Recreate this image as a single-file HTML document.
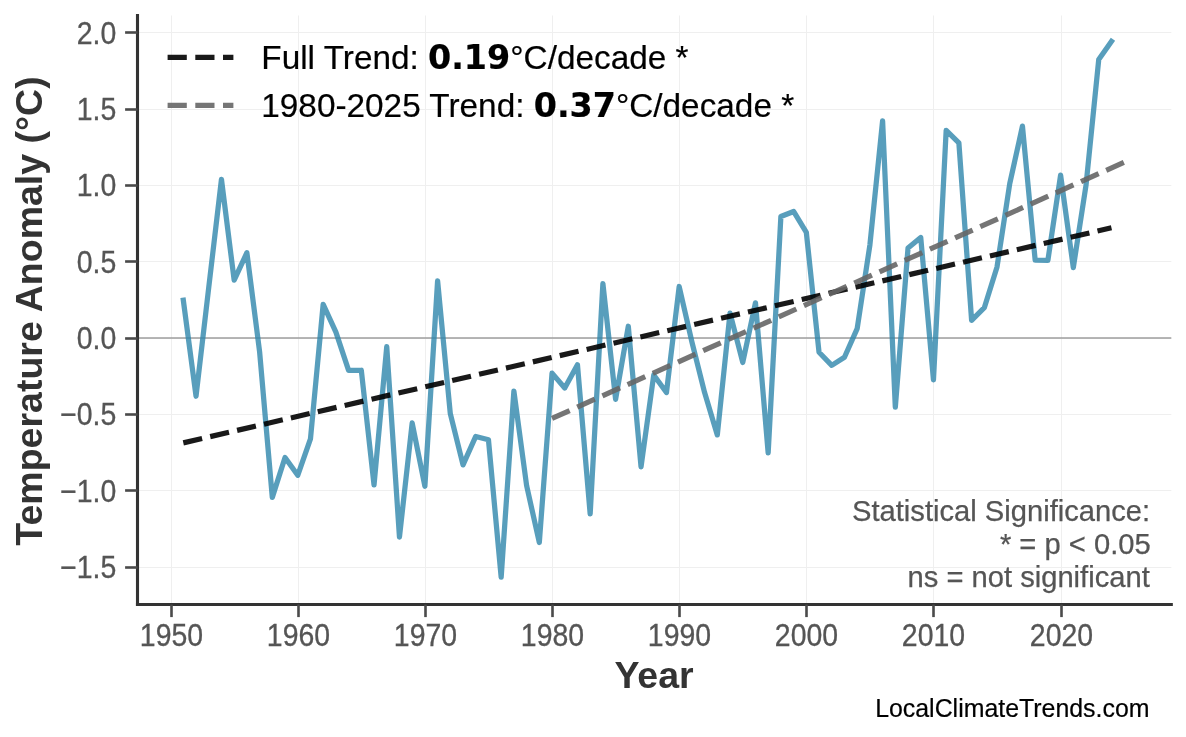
<!DOCTYPE html>
<html lang="en"><head><meta charset="utf-8"><title>Temperature Anomaly Trend</title>
<style>
html,body{margin:0;padding:0;background:#fff;}
body{width:1186px;height:737px;overflow:hidden;}
svg{display:block;}
text{font-family:"Liberation Sans",sans-serif;}
.tk{font-size:29.17px;fill:#555555;stroke:#555555;stroke-width:0.3px;}
.lg{font-size:33.33px;fill:#000;stroke:#000;stroke-width:0.2px;}
.bd{font-family:"DejaVu Sans",sans-serif;font-weight:bold;}
.al{font-size:37.5px;font-weight:bold;fill:#333333;}
.an{font-size:29.17px;fill:#555555;stroke:#555555;stroke-width:0.25px;}
.wm{font-size:24.9px;fill:#000;stroke:#000;stroke-width:0.2px;}
</style></head><body>
<svg width="1186" height="737" viewBox="0 0 1186 737">
<rect width="1186" height="737" fill="#ffffff"/>
<g stroke="#efefef" stroke-width="1" fill="none">
<line x1="171.50" y1="15.5" x2="171.50" y2="604.5"/>
<line x1="298.50" y1="15.5" x2="298.50" y2="604.5"/>
<line x1="425.50" y1="15.5" x2="425.50" y2="604.5"/>
<line x1="552.50" y1="15.5" x2="552.50" y2="604.5"/>
<line x1="679.50" y1="15.5" x2="679.50" y2="604.5"/>
<line x1="806.50" y1="15.5" x2="806.50" y2="604.5"/>
<line x1="933.50" y1="15.5" x2="933.50" y2="604.5"/>
<line x1="1061.50" y1="15.5" x2="1061.50" y2="604.5"/>
<line x1="137.5" y1="567.50" x2="1171.3" y2="567.50"/>
<line x1="137.5" y1="490.50" x2="1171.3" y2="490.50"/>
<line x1="137.5" y1="414.50" x2="1171.3" y2="414.50"/>
<line x1="137.5" y1="338.50" x2="1171.3" y2="338.50"/>
<line x1="137.5" y1="261.50" x2="1171.3" y2="261.50"/>
<line x1="137.5" y1="185.50" x2="1171.3" y2="185.50"/>
<line x1="137.5" y1="109.50" x2="1171.3" y2="109.50"/>
<line x1="137.5" y1="32.50" x2="1171.3" y2="32.50"/>
</g>
<line x1="137.5" y1="338.00" x2="1171.3" y2="338.00" stroke="#9e9e9e" stroke-width="1.6"/>
<polyline points="183.31,300.17 196.03,396.24 208.74,287.56 221.46,179.34 234.17,280.22 246.89,252.71 259.60,351.76 272.31,497.42 285.03,457.53 297.74,475.26 310.46,438.88 323.17,304.37 335.89,332.19 348.60,370.40 361.31,370.25 374.03,484.98 386.74,346.71 399.46,537.01 412.17,422.98 424.89,486.26 437.60,280.83 450.31,413.66 463.03,464.87 475.74,436.44 488.46,439.80 501.17,577.21 513.89,391.04 526.60,485.50 539.31,542.51 552.03,373.16 564.74,387.98 577.46,364.75 590.17,513.93 602.89,283.59 615.60,399.29 628.31,326.23 641.03,466.85 653.74,374.99 666.46,392.57 679.17,286.49 691.89,341.82 704.60,392.57 717.31,434.91 730.03,313.09 742.74,362.46 755.46,302.84 768.17,452.94 780.89,216.48 793.60,211.44 806.32,232.38 819.03,352.22 831.74,365.36 844.46,357.26 857.17,328.68 869.89,245.07 882.60,120.80 895.32,407.24 908.03,247.97 920.74,237.42 933.46,379.88 946.17,130.43 958.89,142.96 971.60,320.27 984.32,307.74 997.03,266.92 1009.74,183.62 1022.46,126.15 1035.17,260.20 1047.89,260.28 1060.60,175.21 1073.32,267.54 1086.03,185.15 1098.74,59.40 1111.46,41.39" fill="none" stroke="#2E86AB" stroke-opacity="0.8" stroke-width="5.25" stroke-linejoin="round" stroke-linecap="square"/>
<line x1="183.31" y1="442.86" x2="1111.46" y2="227.80" stroke="#000" stroke-opacity="0.9" stroke-width="5.2" stroke-dasharray="19.3 8.3"/>
<line x1="552.03" y1="418.40" x2="1124.17" y2="162.22" stroke="#666666" stroke-opacity="0.9" stroke-width="5.2" stroke-dasharray="19.3 8.3"/>
<g stroke="#333333" stroke-width="3.1" fill="none" stroke-linecap="square">
<line x1="137.5" y1="15.5" x2="137.5" y2="604.5"/>
<line x1="137.5" y1="604.5" x2="1171.3" y2="604.5"/>
</g>
<g stroke="#4a4a4a" stroke-width="2.6" fill="none">
<line x1="171.50" y1="604.5" x2="171.50" y2="617.1"/>
<line x1="298.50" y1="604.5" x2="298.50" y2="617.1"/>
<line x1="425.50" y1="604.5" x2="425.50" y2="617.1"/>
<line x1="552.50" y1="604.5" x2="552.50" y2="617.1"/>
<line x1="679.50" y1="604.5" x2="679.50" y2="617.1"/>
<line x1="806.50" y1="604.5" x2="806.50" y2="617.1"/>
<line x1="933.50" y1="604.5" x2="933.50" y2="617.1"/>
<line x1="1061.50" y1="604.5" x2="1061.50" y2="617.1"/>
<line x1="137.5" y1="567.50" x2="125.1" y2="567.50"/>
<line x1="137.5" y1="490.50" x2="125.1" y2="490.50"/>
<line x1="137.5" y1="414.50" x2="125.1" y2="414.50"/>
<line x1="137.5" y1="338.50" x2="125.1" y2="338.50"/>
<line x1="137.5" y1="261.50" x2="125.1" y2="261.50"/>
<line x1="137.5" y1="185.50" x2="125.1" y2="185.50"/>
<line x1="137.5" y1="109.50" x2="125.1" y2="109.50"/>
<line x1="137.5" y1="32.50" x2="125.1" y2="32.50"/>
</g>
<g class="tk">
<text transform="translate(171.50 645.8) scale(0.975 1.045)" text-anchor="middle">1950</text>
<text transform="translate(298.50 645.8) scale(0.975 1.045)" text-anchor="middle">1960</text>
<text transform="translate(425.50 645.8) scale(0.975 1.045)" text-anchor="middle">1970</text>
<text transform="translate(552.50 645.8) scale(0.975 1.045)" text-anchor="middle">1980</text>
<text transform="translate(679.50 645.8) scale(0.975 1.045)" text-anchor="middle">1990</text>
<text transform="translate(806.50 645.8) scale(0.975 1.045)" text-anchor="middle">2000</text>
<text transform="translate(933.50 645.8) scale(0.975 1.045)" text-anchor="middle">2010</text>
<text transform="translate(1061.50 645.8) scale(0.975 1.045)" text-anchor="middle">2020</text>
<text transform="translate(116.3 577.95) scale(0.975 1.045)" text-anchor="end">−1.5</text>
<text transform="translate(116.3 501.60) scale(0.975 1.045)" text-anchor="end">−1.0</text>
<text transform="translate(116.3 425.25) scale(0.975 1.045)" text-anchor="end">−0.5</text>
<text transform="translate(116.3 348.90) scale(0.975 1.045)" text-anchor="end">0.0</text>
<text transform="translate(116.3 272.55) scale(0.975 1.045)" text-anchor="end">0.5</text>
<text transform="translate(116.3 196.20) scale(0.975 1.045)" text-anchor="end">1.0</text>
<text transform="translate(116.3 119.85) scale(0.975 1.045)" text-anchor="end">1.5</text>
<text transform="translate(116.3 43.50) scale(0.975 1.045)" text-anchor="end">2.0</text>
</g>
<text class="al" x="654" y="688" text-anchor="middle">Year</text>
<text class="al" transform="translate(41.8 311) rotate(-90)" text-anchor="middle">Temperature Anomaly (°C)</text>
<line x1="167.6" y1="57.4" x2="233.4" y2="57.4" stroke="#000" stroke-opacity="0.9" stroke-width="5.2" stroke-dasharray="19.2 8.5"/>
<line x1="167.6" y1="105.4" x2="233.4" y2="105.4" stroke="#666666" stroke-opacity="0.9" stroke-width="5.2" stroke-dasharray="19.2 8.5"/>
<text class="lg" x="261.3" y="69">Full Trend: <tspan class="bd">0.19</tspan>°C/decade *</text>
<text class="lg" x="261.3" y="116.6">1980-2025 Trend: <tspan class="bd">0.37</tspan>°C/decade *</text>
<g class="an" text-anchor="end">
<text x="1150.2" y="521.2">Statistical Significance:</text>
<text x="1150.7" y="553.8">* = p &lt; 0.05</text>
<text x="1149.8" y="587.0">ns = not significant</text>
</g>
<text class="wm" x="1149.5" y="717" text-anchor="end">LocalClimateTrends.com</text>
</svg></body></html>
